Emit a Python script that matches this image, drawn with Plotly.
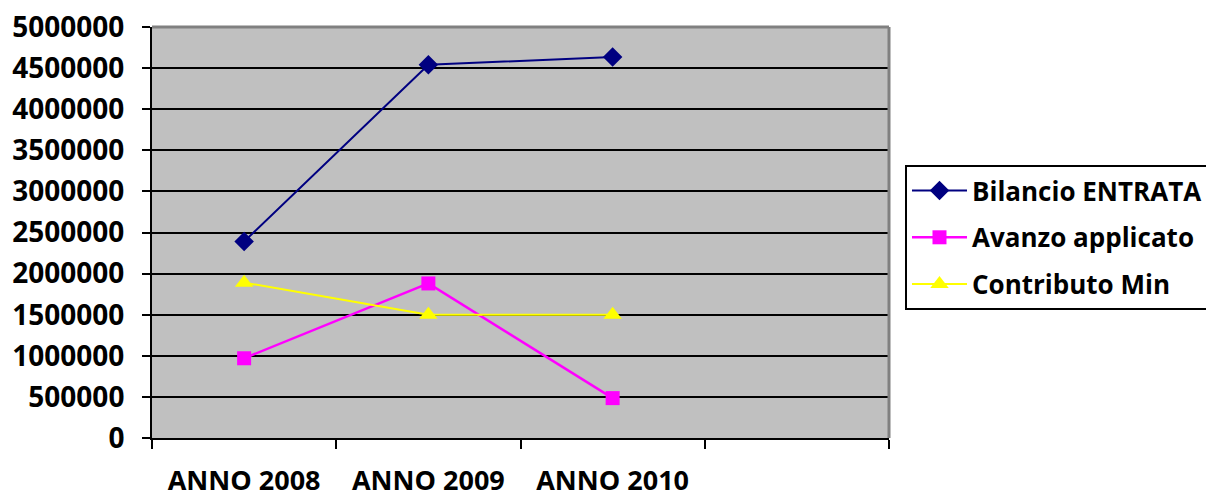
import plotly.graph_objects as go

categories = ["ANNO 2008", "ANNO 2009", "ANNO 2010"]
all_slots = ["ANNO 2008", "ANNO 2009", "ANNO 2010", " "]
bilancio_entrata = [2390000, 4540000, 4635000]
avanzo_applicato = [970000, 1880000, 485000]
contributo_min = [1890000, 1500000, 1500000]

FONT = "Open Sans"

fig = go.Figure()
fig.add_trace(go.Scatter(
    x=categories, y=bilancio_entrata, name="Bilancio ENTRATA", mode="lines+markers",
    line=dict(color="#000080", width=2),
    marker=dict(symbol="diamond", size=15, color="#000080"),
    legendgroup="a"))
fig.add_trace(go.Scatter(
    x=categories, y=avanzo_applicato, name="Avanzo applicato", mode="lines+markers",
    line=dict(color="#FF00FF", width=2.5),
    marker=dict(symbol="square", size=14, color="#FF00FF"),
    legendgroup="b"))
fig.add_trace(go.Scatter(
    x=categories, y=contributo_min, name="Contributo Min", mode="lines+markers",
    line=dict(color="#FFFF00", width=2),
    marker=dict(symbol="triangle-up", size=16, color="#FFFF00"),
    legendgroup="c"))

fig.update_layout(
    width=1206, height=491,
    margin=dict(l=144, r=325, t=19, b=61, autoexpand=False),
    paper_bgcolor="white", plot_bgcolor="#C0C0C0",
    font=dict(family=FONT, color="black"),
    showlegend=True,
    legend=dict(
        x=1.0217, y=0.664, xanchor="left", yanchor="top",
        bordercolor="black", borderwidth=2, bgcolor="white",
        font=dict(family=FONT, size=26, color="black", weight="bold"),
        itemwidth=55, tracegroupgap=10,
    ),
    xaxis=dict(
        type="category", categoryorder="array", categoryarray=all_slots,
        range=[-0.5, 3.5], showgrid=False, zeroline=False, automargin=False,
        showline=True, linecolor="black", linewidth=2,
        ticks="outside", tickson="boundaries", ticklen=9, tickwidth=2, tickcolor="black",
        tickfont=dict(family=FONT, size=27, color="black", weight="bold"),
        ticklabelstandoff=18, ticklabeloverflow="allow",
    ),
    yaxis=dict(
        range=[0, 5000000], dtick=500000, tick0=0, tickformat="d", automargin=False,
        showgrid=True, gridcolor="black", gridwidth=2, zeroline=False,
        showline=True, linecolor="black", linewidth=2,
        ticks="outside", ticklen=8, tickwidth=2, tickcolor="black",
        tickfont=dict(family=FONT, size=28, color="black", weight="bold"),
        ticklabelstandoff=12, ticklabeloverflow="allow",
    ),
    shapes=[
        dict(type="line", xref="paper", yref="paper", x0=0, x1=1, y0=1, y1=1,
             line=dict(color="#808080", width=3), layer="above"),
        dict(type="line", xref="paper", yref="paper", x0=1, x1=1, y0=0, y1=1,
             line=dict(color="#808080", width=3), layer="above"),
    ],
)

fig.write_html("out.html")
